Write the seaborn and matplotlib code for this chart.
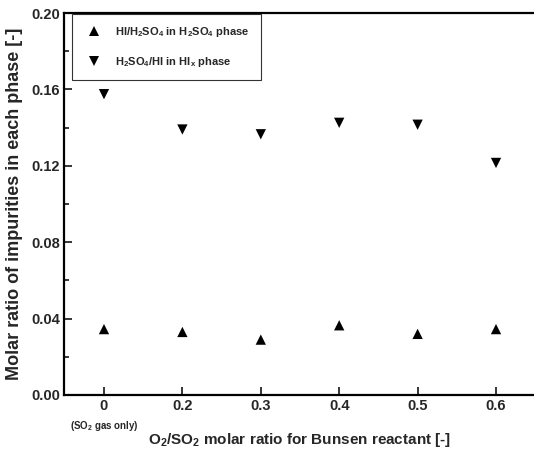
import pandas as pd
import matplotlib
matplotlib.use("Agg")
import matplotlib.pyplot as plt
import matplotlib.transforms as mtransforms
from matplotlib.ticker import MultipleLocator
import seaborn as sns

# Dati
rapporti_o2 = ["0", "0.2", "0.3", "0.4", "0.5", "0.6"]
hi_in_h2so4 = [0.0345, 0.033, 0.029, 0.0365, 0.032, 0.0345]
h2so4_in_hix = [0.1575, 0.139, 0.1365, 0.1425, 0.1415, 0.1215]
etichetta_hi = "HI/H$_2$SO$_4$ in H$_2$SO$_4$ phase"
etichetta_h2so4 = "H$_2$SO$_4$/HI in HI$_x$ phase"

sns.set_style("ticks")
plt.rcParams['font.family'] = ['Liberation Sans', 'DejaVu Sans']
plt.rcParams['font.weight'] = 'bold'
plt.rcParams['mathtext.fontset'] = 'custom'
plt.rcParams['mathtext.rm'] = 'Liberation Sans:bold'
plt.rcParams['mathtext.bf'] = 'Liberation Sans:bold'
plt.rcParams['mathtext.default'] = 'rm'

pos = list(range(len(rapporti_o2)))
df = pd.DataFrame({
    "pos": pos * 2,
    "valore": hi_in_h2so4 + h2so4_in_hix,
    "serie": [etichetta_hi] * len(pos) + [etichetta_h2so4] * len(pos),
})

fig = plt.figure(figsize=(5.34, 4.57), dpi=100)
ax = fig.add_axes([64 / 534, 1 - 395 / 457, 472 / 534, 382 / 457])

sns.scatterplot(data=df, x="pos", y="valore", style="serie",
                markers={etichetta_hi: "^", etichetta_h2so4: "v"},
                color="black", s=55, edgecolor="black", linewidth=0, ax=ax)

ax.set_xlim(-0.51, 5.51)
ax.set_ylim(0, 0.2)
ax.set_xticks(pos)
ax.set_xticklabels(rapporti_o2)
ax.yaxis.set_major_locator(MultipleLocator(0.04))
ax.yaxis.set_minor_locator(MultipleLocator(0.02))
ax.yaxis.set_major_formatter(matplotlib.ticker.FormatStrFormatter('%.2f'))
ax.tick_params(axis='both', which='major', direction='in', length=6, width=1.3,
               labelsize=10.5, pad=3)
ax.tick_params(axis='y', which='minor', direction='in', length=3.5, width=1.3)
for lab in ax.get_xticklabels() + ax.get_yticklabels():
    lab.set_fontweight('bold')

for lato in ['left', 'bottom', 'top', 'right']:
    ax.spines[lato].set_linewidth(1.6)
    ax.spines[lato].set_color('black')

trans = mtransforms.blended_transform_factory(ax.transData, ax.transAxes)
ax.text(0, -0.063, "(SO$_2$ gas only)", transform=trans, ha='center', va='top',
        fontsize=7, fontweight='bold')

ax.set_xlabel("O$_2$/SO$_2$ molar ratio for Bunsen reactant [-]", fontsize=11,
              fontweight='bold', labelpad=13)
ax.set_ylabel("Molar ratio of impurities in each phase [-]", fontsize=13,
              fontweight='bold', labelpad=6)

leg = ax.legend(loc='upper left', bbox_to_anchor=(0.017, 0.997), borderaxespad=0,
                frameon=True, fancybox=False, edgecolor='black', fontsize=8,
                handletextpad=0.9, borderpad=1.0, labelspacing=1.45)
leg.get_frame().set_linewidth(0.8)
for t in leg.get_texts():
    t.set_fontweight('bold')

fig.savefig("out.png", dpi=100)
